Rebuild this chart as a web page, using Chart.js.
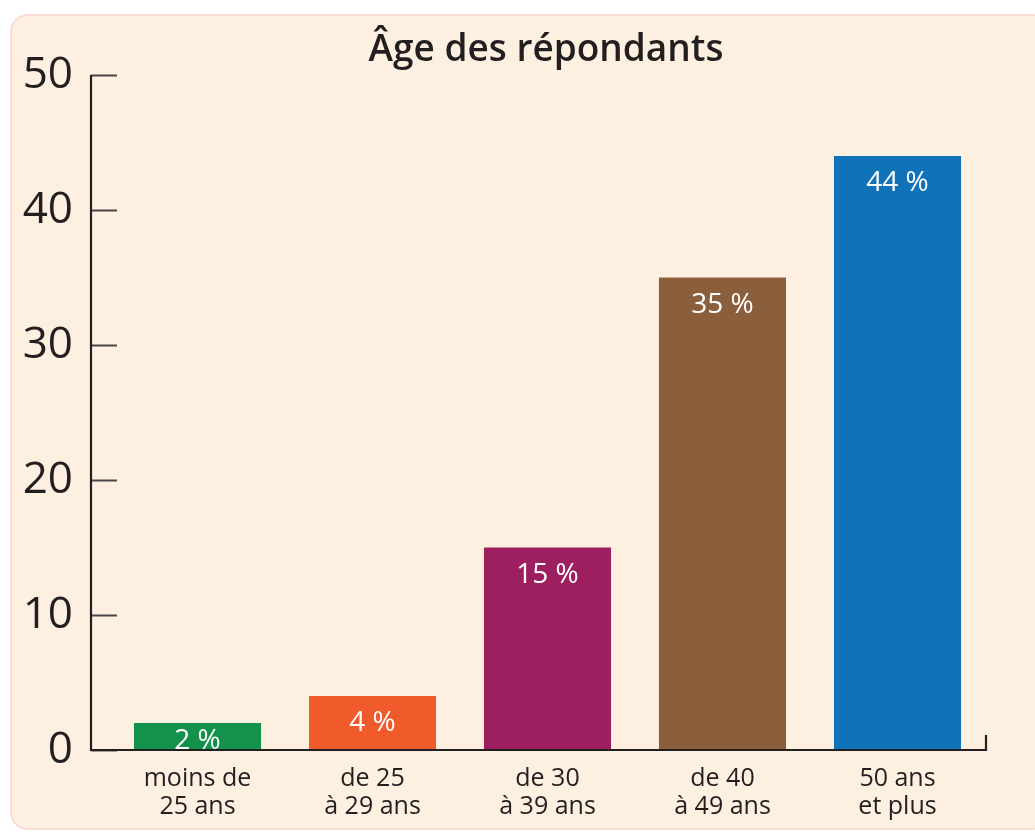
<!DOCTYPE html>
<html><head><meta charset="utf-8">
<script src="https://cdn.jsdelivr.net/npm/chart.js@4"></script>
<style>
html,body{margin:0;padding:0;background:#fff;}
#frame{position:absolute;left:10px;top:14px;width:1040px;height:816px;background:#fdf0e0;border:2px solid #fadcd6;border-radius:18px;box-sizing:border-box;}
#wrap{position:absolute;left:0;top:0;width:1035px;height:832px;}
#title{position:absolute;left:0;top:27px;width:1092px;text-align:center;font:600 37px/40px "Open Sans","DejaVu Sans",sans-serif;color:#231f20;white-space:nowrap;}
</style></head><body>
<div id="frame"></div>
<div id="wrap"><canvas id="ageChart"></canvas></div>
<div id="title">Âge des répondants</div>
<script>
// ============================================================
//  AGE DES REPONDANTS
// ============================================================
const ageGroups=[['moins de','25 ans'],['de 25','à 29 ans'],['de 30','à 39 ans'],['de 40','à 49 ans'],['50 ans','et plus']];
const sharePct=[2,4,15,35,44];
const barColors=['#12924a','#f15a2b','#9d1f5f','#8b5e3c','#1072b9'];
const yTicks=[0,10,20,30,40,50];

const inkColor='#231f20';
const fontFam='"Open Sans", "DejaVu Sans", sans-serif';

// axis lines sit a bit left of the first bar slot, ticks point inward
const axisPlugin={
  id:'axisLines',
  afterDraw(chart){
    const {ctx,chartArea,scales:{y}}=chart;
    const x0=chartArea.left-19, yTop=y.getPixelForValue(yTicks[yTicks.length-1]), yBot=y.getPixelForValue(0);
    ctx.save();
    ctx.strokeStyle='#4a4546';ctx.lineWidth=2;
    yTicks.forEach(v=>{const py=Math.round(y.getPixelForValue(v))+0.5;ctx.beginPath();ctx.moveTo(x0,py);ctx.lineTo(x0+26,py);ctx.stroke();});
    ctx.strokeStyle=inkColor;ctx.lineWidth=2.2;
    ctx.beginPath();
    ctx.moveTo(x0,yTop);ctx.lineTo(x0,yBot);ctx.lineTo(chartArea.right+1,yBot);ctx.lineTo(chartArea.right+1,yBot-15);
    ctx.stroke();
    ctx.restore();
  }
};

const valueLabels={
  id:'valueLabels',
  afterDatasetsDraw(chart){
    const {ctx}=chart;
    const meta=chart.getDatasetMeta(0);
    ctx.save();
    ctx.fillStyle='#ffffff';ctx.font='28px '+fontFam;
    ctx.textAlign='center';ctx.textBaseline='alphabetic';
    meta.data.forEach((bar,i)=>{
      ctx.fillText(sharePct[i]+' %',bar.x,Math.min(bar.y+35,bar.base-1));
    });
    ctx.restore();
  }
};

new Chart(document.getElementById('ageChart'),{
  type:'bar',
  data:{labels:ageGroups,datasets:[{data:sharePct,backgroundColor:barColors,borderWidth:0,barPercentage:0.726,categoryPercentage:1}]},
  options:{
    responsive:true,maintainAspectRatio:false,animation:false,
    layout:{padding:{top:75,right:50,bottom:0,left:0}},
    plugins:{legend:{display:false},tooltip:{enabled:false},title:{display:false}},
    scales:{
      y:{min:0,max:50,
        ticks:{stepSize:10,color:inkColor,font:{family:fontFam,size:44},padding:37},
        grid:{display:false,drawTicks:false},border:{display:false},
        afterFit:s=>{s.width=110;}},
      x:{ticks:{color:inkColor,font:{family:fontFam,size:25,lineHeight:1.12},padding:15,maxRotation:0,autoSkip:false},
        grid:{display:false,drawTicks:false},border:{display:false},
        afterFit:s=>{s.height=82;}}
    }
  },
  plugins:[axisPlugin,valueLabels]
});
</script>
</body></html>
